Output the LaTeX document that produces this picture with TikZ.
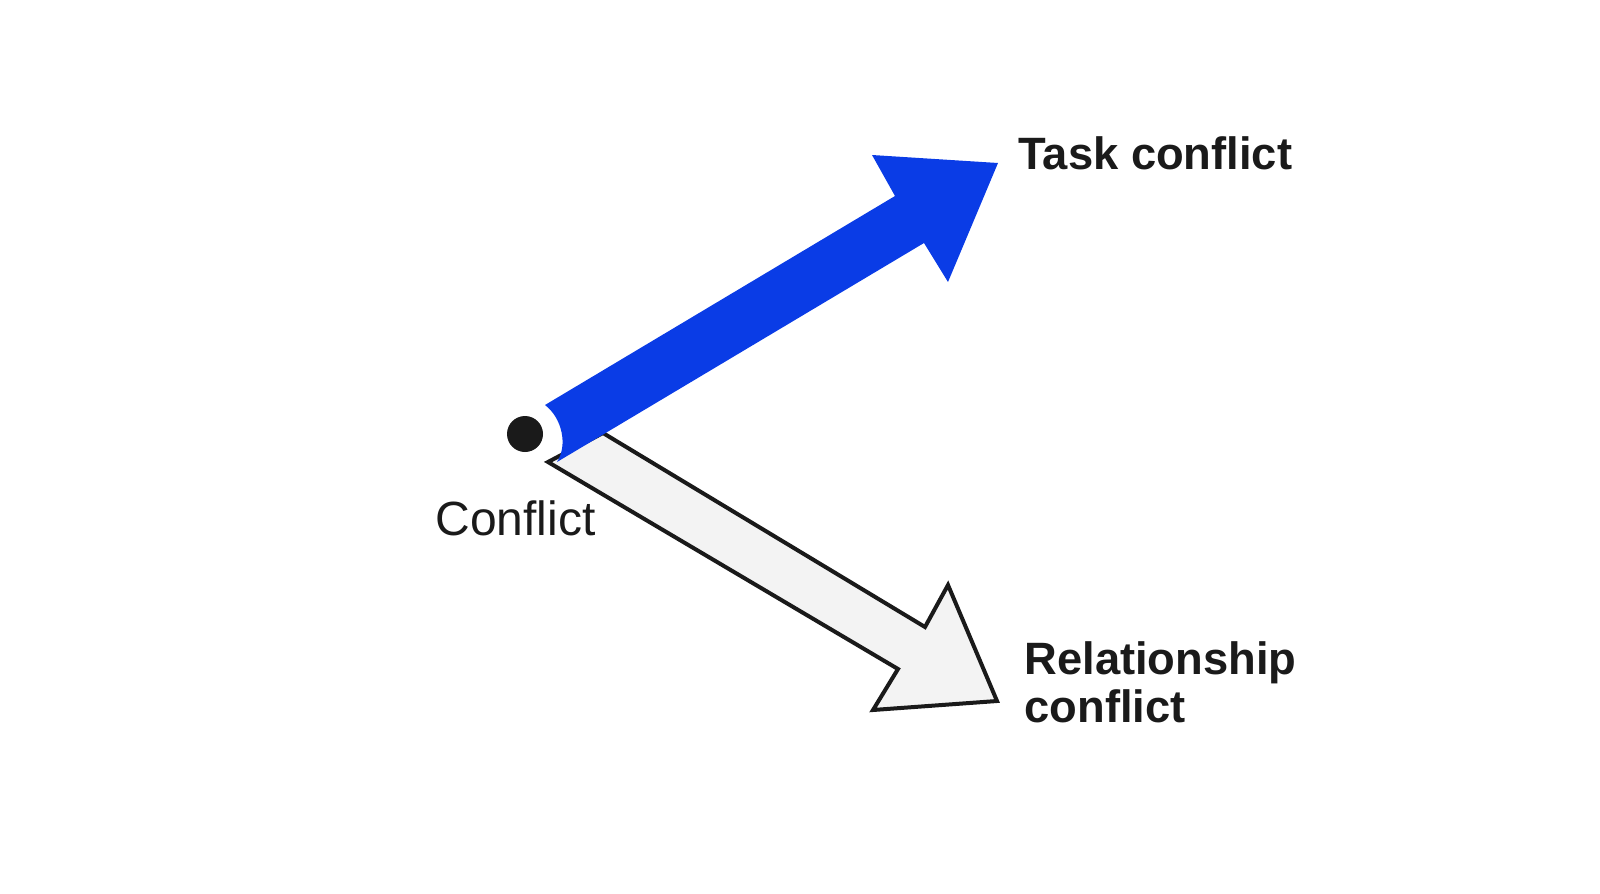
\documentclass[tikz,border=0pt]{standalone}
\usepackage{fontspec}
\setmainfont{Liberation Sans}
\definecolor{taskblue}{RGB}{10,60,230}
\definecolor{relgray}{RGB}{243,243,243}
\definecolor{inkdark}{RGB}{26,26,26}
\tikzset{every picture/.style={line width=0.75pt}}
\begin{document}
\begin{tikzpicture}[x=0.75pt,y=0.75pt,yscale=-1,xscale=1]
\useasboundingbox (0,0) rectangle (1600,893);

%Shape: Relationship arrow
\draw [color=inkdark, fill=relgray, line width=3, line join=miter] (548,462) -- (603,433) -- (925,627) -- (948,585) -- (997,701) -- (873,710) -- (898,669) -- cycle ;
%Shape: Task arrow
\fill [taskblue] (545,405) -- (895,196) -- (872,155) -- (998,163) -- (948,282) -- (924,243) -- (557,462) .. controls (568,445) and (562,418) .. (545,405) -- cycle ;
%Shape: halo and dot
\fill [white] (525,434) circle [radius=31] ;
\fill [inkdark] (525,434) circle [radius=18] ;

% Text Node
\node (origin) [anchor=base west, inner sep=0, text=inkdark, font=\fontsize{36}{40}\selectfont] at (435,535) {Conflict};
% Text Node
\node (task) [anchor=base west, inner sep=0, text=inkdark, font=\fontsize{34}{38}\selectfont\bfseries] at (1018,169) {Task conflict};
% Text Node
\node (rel) [anchor=base west, inner sep=0, text=inkdark, align=left, font=\fontsize{34}{36}\selectfont\bfseries] at (1024,722) {Relationship\\conflict};

\end{tikzpicture}
\end{document}
